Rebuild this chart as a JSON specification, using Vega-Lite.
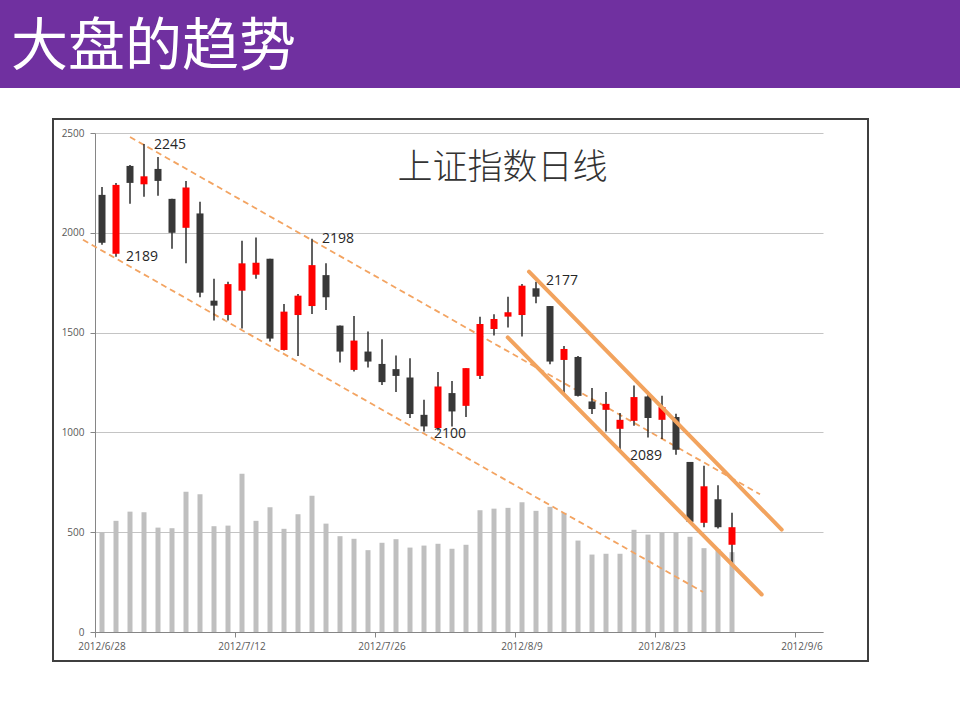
{
  "$schema": "https://vega.github.io/schema/vega-lite/v6.json",
  "background": "white",
  "padding": 0,
  "config": {"font": "Open Sans", "view": {"stroke": null}},
  "datasets": {
    "days": [
      {"date": "2012/6/28", "open": 2219, "high": 2223, "low": 2194, "close": 2195, "volume": 500},
      {"date": "2012/6/29", "open": 2189.5, "high": 2225, "low": 2188, "close": 2224, "volume": 557},
      {"date": "2012/7/2", "open": 2233.5, "high": 2234, "low": 2214.5, "close": 2225, "volume": 603},
      {"date": "2012/7/3", "open": 2224.3, "high": 2244.5, "low": 2218, "close": 2228.3, "volume": 600},
      {"date": "2012/7/4", "open": 2232, "high": 2238, "low": 2218.5, "close": 2226, "volume": 523},
      {"date": "2012/7/5", "open": 2217, "high": 2217, "low": 2192, "close": 2200, "volume": 520},
      {"date": "2012/7/6", "open": 2202.5, "high": 2226, "low": 2184.7, "close": 2222.7, "volume": 703},
      {"date": "2012/7/9", "open": 2209.7, "high": 2215.5, "low": 2167.7, "close": 2170, "volume": 690},
      {"date": "2012/7/10", "open": 2166, "high": 2177, "low": 2156, "close": 2163.5, "volume": 530},
      {"date": "2012/7/11", "open": 2158.8, "high": 2175.5, "low": 2156, "close": 2174.3, "volume": 533},
      {"date": "2012/7/12", "open": 2171, "high": 2196, "low": 2152, "close": 2184.7, "volume": 793},
      {"date": "2012/7/13", "open": 2179, "high": 2197.7, "low": 2177, "close": 2185, "volume": 557},
      {"date": "2012/7/16", "open": 2187, "high": 2187, "low": 2145.5, "close": 2147, "volume": 625},
      {"date": "2012/7/17", "open": 2141.3, "high": 2164.3, "low": 2141, "close": 2160.5, "volume": 517},
      {"date": "2012/7/18", "open": 2158.8, "high": 2169.3, "low": 2138.3, "close": 2168.5, "volume": 590},
      {"date": "2012/7/19", "open": 2163.3, "high": 2197, "low": 2159.3, "close": 2183.8, "volume": 682},
      {"date": "2012/7/20", "open": 2178.8, "high": 2184.7, "low": 2161.3, "close": 2167.7, "volume": 543},
      {"date": "2012/7/23", "open": 2153.5, "high": 2153.5, "low": 2135, "close": 2140.5, "volume": 480},
      {"date": "2012/7/24", "open": 2131.3, "high": 2158.3, "low": 2130.5, "close": 2146, "volume": 467},
      {"date": "2012/7/25", "open": 2140.5, "high": 2150.5, "low": 2132.5, "close": 2135.5, "volume": 410},
      {"date": "2012/7/26", "open": 2134.3, "high": 2146.7, "low": 2123.8, "close": 2125.2, "volume": 447},
      {"date": "2012/7/27", "open": 2131.7, "high": 2138.5, "low": 2120.2, "close": 2128.3, "volume": 465},
      {"date": "2012/7/30", "open": 2127.5, "high": 2137.2, "low": 2107.2, "close": 2109.2, "volume": 423},
      {"date": "2012/7/31", "open": 2108.8, "high": 2116.3, "low": 2100.5, "close": 2103, "volume": 433},
      {"date": "2012/8/1", "open": 2102.2, "high": 2130.2, "low": 2101, "close": 2123, "volume": 442},
      {"date": "2012/8/2", "open": 2119.7, "high": 2125.8, "low": 2103, "close": 2110.5, "volume": 417},
      {"date": "2012/8/3", "open": 2113.3, "high": 2132.2, "low": 2107.7, "close": 2132.2, "volume": 437},
      {"date": "2012/8/6", "open": 2128.3, "high": 2158, "low": 2126.7, "close": 2154.3, "volume": 610},
      {"date": "2012/8/7", "open": 2151.8, "high": 2159.2, "low": 2148.5, "close": 2156.8, "volume": 618},
      {"date": "2012/8/8", "open": 2158, "high": 2168, "low": 2152.5, "close": 2160.2, "volume": 622},
      {"date": "2012/8/9", "open": 2158.8, "high": 2174.3, "low": 2148, "close": 2173.5, "volume": 650},
      {"date": "2012/8/10", "open": 2172.2, "high": 2175.5, "low": 2164.7, "close": 2168, "volume": 607},
      {"date": "2012/8/13", "open": 2163.3, "high": 2163.3, "low": 2134.2, "close": 2135.5, "volume": 627},
      {"date": "2012/8/14", "open": 2136.3, "high": 2143.3, "low": 2119.7, "close": 2141.8, "volume": 597},
      {"date": "2012/8/15", "open": 2137.8, "high": 2138.3, "low": 2118, "close": 2118.3, "volume": 458},
      {"date": "2012/8/16", "open": 2115.5, "high": 2122.2, "low": 2109.2, "close": 2111.7, "volume": 388},
      {"date": "2012/8/17", "open": 2111.3, "high": 2120.2, "low": 2100.5, "close": 2114.3, "volume": 392},
      {"date": "2012/8/20", "open": 2101.8, "high": 2109.7, "low": 2090.5, "close": 2106.3, "volume": 392},
      {"date": "2012/8/21", "open": 2105.8, "high": 2123.5, "low": 2103.3, "close": 2117.7, "volume": 512},
      {"date": "2012/8/22", "open": 2118, "high": 2120.5, "low": 2097.5, "close": 2107.2, "volume": 488},
      {"date": "2012/8/23", "open": 2106.3, "high": 2118.3, "low": 2096.7, "close": 2112.7, "volume": 500},
      {"date": "2012/8/24", "open": 2107.7, "high": 2109.3, "low": 2088.8, "close": 2091.3, "volume": 498},
      {"date": "2012/8/27", "open": 2085.2, "high": 2085.2, "low": 2055, "close": 2055.2, "volume": 477},
      {"date": "2012/8/28", "open": 2054.7, "high": 2083.3, "low": 2052.5, "close": 2073, "volume": 420},
      {"date": "2012/8/29", "open": 2066.5, "high": 2073.5, "low": 2051.8, "close": 2052.5, "volume": 415},
      {"date": "2012/8/30", "open": 2043.7, "high": 2059.7, "low": 2033.8, "close": 2052.5, "volume": 400}
    ],
    "notes": [
      {"date": "2012/7/3", "value": 2245},
      {"date": "2012/6/29", "value": 2189},
      {"date": "2012/7/19", "value": 2198},
      {"date": "2012/8/10", "value": 2177},
      {"date": "2012/7/31", "value": 2100},
      {"date": "2012/8/20", "value": 2089}
    ],
    "trend": [
      {"line": "upper", "tradingDay": 2.5, "price": 2248},
      {"line": "upper", "tradingDay": 47.5, "price": 2069},
      {"line": "lower", "tradingDay": -0.86, "price": 2196.5},
      {"line": "lower", "tradingDay": 43.43, "price": 2020}
    ],
    "channel": [
      {"line": "top", "tradingDay": 31.0, "price": 2180.5},
      {"line": "top", "tradingDay": 49.05, "price": 2051.3},
      {"line": "bottom", "tradingDay": 29.48, "price": 2147.6},
      {"line": "bottom", "tradingDay": 47.62, "price": 2018.8}
    ]
  },
  "spacing": 30,
  "vconcat": [
    {
      "width": 960,
      "height": 88,
      "view": {"fill": "#7030A0", "stroke": null},
      "title": {"text": "大盘的趋势", "orient": "top", "anchor": "start", "frame": "group", "offset": -122, "dx": 11, "baseline": "alphabetic", "font": "Noto Sans CJK SC", "fontSize": 57, "fontWeight": "normal", "color": "#FFFFFF"},
      "data": {"values": [{}]},
      "mark": {"type": "text", "opacity": 0},
      "encoding": {"text": {"value": ""}}
    },
    {
      "spacing": 0,
      "hconcat": [
        {
          "width": 52,
          "height": 10,
          "view": {"stroke": null},
          "data": {"values": [{}]},
          "mark": {"type": "text", "opacity": 0},
          "encoding": {"text": {"value": ""}}
        },
        {
          "width": 815,
          "height": 542,
          "view": {"fill": "white", "stroke": "#3F3F3F", "strokeWidth": 2},
          "title": {"text": "上证指数日线", "orient": "top", "anchor": "middle", "frame": "group", "offset": -95, "dx": 42, "baseline": "alphabetic", "font": "Noto Sans CJK SC", "fontSize": 35, "fontWeight": 300, "color": "#333333"},
          "resolve": {"scale": {"x": "independent", "y": "independent"}},
          "layer": [
            {
              "data": {"name": "days"},
              "mark": {"type": "bar", "size": 5, "color": "#BFBFBF"},
              "encoding": {
                "x": {
                  "field": "date", "type": "ordinal",
                  "scale": {"type": "band", "range": [42, 770], "paddingInner": 0, "paddingOuter": 0,
                    "domain": ["2012/6/28","2012/6/29","2012/7/2","2012/7/3","2012/7/4","2012/7/5","2012/7/6","2012/7/9","2012/7/10","2012/7/11","2012/7/12","2012/7/13","2012/7/16","2012/7/17","2012/7/18","2012/7/19","2012/7/20","2012/7/23","2012/7/24","2012/7/25","2012/7/26","2012/7/27","2012/7/30","2012/7/31","2012/8/1","2012/8/2","2012/8/3","2012/8/6","2012/8/7","2012/8/8","2012/8/9","2012/8/10","2012/8/13","2012/8/14","2012/8/15","2012/8/16","2012/8/17","2012/8/20","2012/8/21","2012/8/22","2012/8/23","2012/8/24","2012/8/27","2012/8/28","2012/8/29","2012/8/30","2012/8/31","2012/9/3","2012/9/4","2012/9/5","2012/9/6","2012/9/7"]},
                  "axis": {"orient": "bottom", "offset": -29, "title": null, "grid": false,
                    "values": ["2012/6/28","2012/7/12","2012/7/26","2012/8/9","2012/8/23","2012/9/6"],
                    "bandPosition": 0, "labelDx": 7, "labelAngle": 0,
                    "domainColor": "#868686", "tickColor": "#868686", "tickSize": 5,
                    "labelColor": "#595959", "labelFontSize": 10, "labelFont": "Open Sans", "labelPadding": 4}
                },
                "y": {
                  "field": "volume", "type": "quantitative",
                  "scale": {"domain": [0, 2500], "range": [513, 14], "nice": false, "zero": true},
                  "axis": {"orient": "left", "offset": -42, "title": null, "grid": true, "gridColor": "#C4C4C4",
                    "values": [0, 500, 1000, 1500, 2000, 2500], "format": "d",
                    "domainColor": "#868686", "tickColor": "#868686", "tickSize": 5,
                    "labelColor": "#595959", "labelFontSize": 10, "labelFont": "Open Sans", "labelPadding": 6}
                }
              }
            },
            {
              "data": {"name": "trend"},
              "mark": {"type": "line", "color": "#F3A462", "strokeWidth": 1.8, "strokeDash": [6, 4]},
              "encoding": {
                "x": {"field": "tradingDay", "type": "quantitative", "scale": {"domain": [0, 52], "range": [42, 770], "nice": false, "zero": false}, "axis": null},
                "y": {"field": "price", "type": "quantitative", "scale": {"domain": [2000, 2250], "range": [513, 14], "nice": false, "zero": false}, "axis": null},
                "detail": {"field": "line"}
              }
            },
            {
              "data": {"name": "days"},
              "encoding": {
                "x": {
                  "field": "date", "type": "ordinal",
                  "scale": {"type": "band", "range": [42, 770], "paddingInner": 0, "paddingOuter": 0,
                    "domain": ["2012/6/28","2012/6/29","2012/7/2","2012/7/3","2012/7/4","2012/7/5","2012/7/6","2012/7/9","2012/7/10","2012/7/11","2012/7/12","2012/7/13","2012/7/16","2012/7/17","2012/7/18","2012/7/19","2012/7/20","2012/7/23","2012/7/24","2012/7/25","2012/7/26","2012/7/27","2012/7/30","2012/7/31","2012/8/1","2012/8/2","2012/8/3","2012/8/6","2012/8/7","2012/8/8","2012/8/9","2012/8/10","2012/8/13","2012/8/14","2012/8/15","2012/8/16","2012/8/17","2012/8/20","2012/8/21","2012/8/22","2012/8/23","2012/8/24","2012/8/27","2012/8/28","2012/8/29","2012/8/30","2012/8/31","2012/9/3","2012/9/4","2012/9/5","2012/9/6","2012/9/7"]},
                  "axis": null
                }
              },
              "layer": [
                {
                  "mark": {"type": "rule", "color": "#1E1E1E", "strokeWidth": 1.4},
                  "encoding": {
                    "y": {"field": "low", "type": "quantitative",
                      "scale": {"domain": [2000, 2250], "range": [513, 14], "nice": false, "zero": false},
                      "axis": {"orient": "right", "offset": -45, "title": null, "grid": false,
                        "values": [2000, 2050, 2100, 2150, 2200, 2250], "format": "d",
                        "domainColor": "#868686", "tickColor": "#868686", "tickSize": 5,
                        "labelColor": "#595959", "labelFontSize": 10, "labelFont": "Open Sans", "labelPadding": 8}},
                    "y2": {"field": "high"}
                  }
                },
                {
                  "mark": {"type": "bar", "size": 7},
                  "encoding": {
                    "y": {"field": "open", "type": "quantitative", "axis": null},
                    "y2": {"field": "close"},
                    "color": {"condition": {"test": "datum.close >= datum.open", "value": "#FF0000"}, "value": "#383838"}
                  }
                },
                {
                  "data": {"name": "notes"},
                  "mark": {"type": "text", "align": "left", "baseline": "middle", "dx": 10, "dy": 2, "fontSize": 14, "font": "Open Sans", "color": "#262626"},
                  "encoding": {
                    "y": {"field": "value", "type": "quantitative", "axis": null},
                    "text": {"field": "value", "type": "quantitative", "format": "d"}
                  }
                }
              ]
            },
            {
              "data": {"name": "channel"},
              "mark": {"type": "line", "color": "#F2A35E", "strokeWidth": 4, "strokeCap": "round"},
              "encoding": {
                "x": {"field": "tradingDay", "type": "quantitative", "scale": {"domain": [0, 52], "range": [42, 770], "nice": false, "zero": false}, "axis": null},
                "y": {"field": "price", "type": "quantitative", "scale": {"domain": [2000, 2250], "range": [513, 14], "nice": false, "zero": false}, "axis": null},
                "detail": {"field": "line"}
              }
            }
          ]
        }
      ]
    }
  ]
}
